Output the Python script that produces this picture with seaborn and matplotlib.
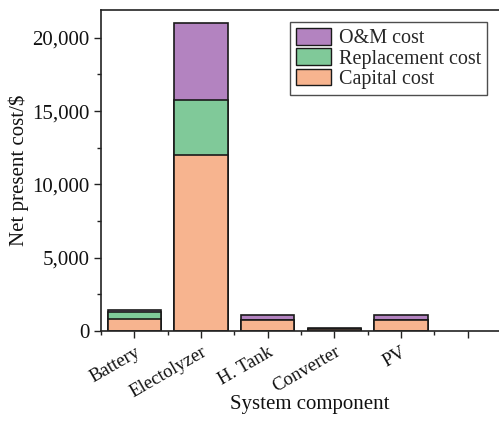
import matplotlib
matplotlib.use("Agg")
import matplotlib.pyplot as plt
from matplotlib.ticker import MultipleLocator, FuncFormatter, FixedLocator
from matplotlib.patches import Patch
import seaborn as sns
import pandas as pd
import numpy as np

components = ["Battery", "Electolyzer", "H. Tank", "Converter", "PV"]
capital_cost = [850, 12000, 730, 130, 730]
replacement_cost = [470, 3750, 0, 0, 0]
om_cost = [90, 5250, 370, 90, 370]

sns.set_theme(style="ticks")
plt.rcParams["font.family"] = ["Liberation Serif", "DejaVu Serif"]
plt.rcParams["xtick.direction"] = "out"
plt.rcParams["ytick.direction"] = "out"

c_om = "#b383c0"
c_rep = "#80c999"
c_cap = "#f7b48f"

df = pd.DataFrame({
    "component": components,
    "cap": capital_cost,
    "rep": replacement_cost,
    "om": om_cost,
})
df["cap_rep"] = df["cap"] + df["rep"]
df["total"] = df["cap_rep"] + df["om"]

fig = plt.figure(figsize=(4.99, 4.21), dpi=100)
ax = fig.add_axes([101 / 499, 1 - 331 / 421, 400 / 499, (331 - 10) / 421])

order = components
for col, color in [("total", c_om), ("cap_rep", c_rep), ("cap", c_cap)]:
    sns.barplot(data=df, x="component", y=col, order=order, color=color,
                width=0.8, edgecolor="#1a1a1a", linewidth=1.2,
                saturation=1, ax=ax)

ax.set_xlim(-0.5, 5.5)
ax.set_ylim(0, 21900)
ax.set_xticks(range(6))
ax.set_xticklabels(components + [""], rotation=30, ha="right",
                   rotation_mode="anchor", fontsize=13.5)
ax.xaxis.set_minor_locator(FixedLocator(np.arange(-0.5, 5.6, 1.0)))
ax.yaxis.set_major_locator(MultipleLocator(5000))
ax.yaxis.set_minor_locator(MultipleLocator(2500))
ax.yaxis.set_major_formatter(FuncFormatter(lambda v, p: f"{int(v):,}"))
ax.tick_params(axis="y", labelsize=15, length=5, width=1, colors="#222222")
ax.tick_params(axis="x", length=5, width=1, colors="#222222", pad=4)
ax.tick_params(which="minor", length=3, width=1, color="#222222")
for lab in ax.get_xticklabels() + ax.get_yticklabels():
    lab.set_color("#111111")

for s in ax.spines.values():
    s.set_linewidth(1.2)
    s.set_color("#222222")

ax.set_xlabel("System component", fontsize=15, color="#111111")
ax.xaxis.set_label_coords((310 - 101) / 400, (331 - 395) / 321)
ax.set_ylabel("Net present cost/$", fontsize=15, color="#111111")
ax.yaxis.set_label_coords((29 - 101) / 400, 0.5)

handles = [
    Patch(facecolor=c_om, edgecolor="#1a1a1a", label="O&M cost"),
    Patch(facecolor=c_rep, edgecolor="#1a1a1a", label="Replacement cost"),
    Patch(facecolor=c_cap, edgecolor="#1a1a1a", label="Capital cost"),
]
leg = ax.legend(handles=handles, loc="upper right", bbox_to_anchor=(0.975, 0.975),
                fontsize=14.5, frameon=True, fancybox=False, edgecolor="#222222",
                handlelength=1.7, handleheight=0.9, handletextpad=0.4,
                borderpad=0.3, labelspacing=0.0, borderaxespad=0.2)
leg.get_frame().set_linewidth(1.0)

fig.savefig("out.png", dpi=100)
